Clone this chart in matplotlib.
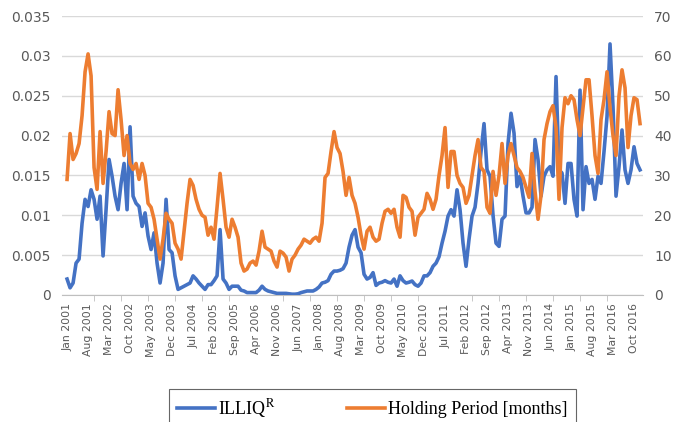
import numpy as np
import matplotlib.pyplot as plt
import pandas as pd

# monthly series, Jan 2001 .. Dec 2016 (one row per year)
illiq_x1000 = [
    2.0, 0.9, 1.5, 4.0, 4.5, 9.0, 12.0, 11.1, 13.2, 12.0, 9.5, 12.4,
    4.9, 10.7, 17.0, 14.9, 12.4, 10.7, 14.0, 16.5, 10.7, 21.1, 12.4, 11.5,
    11.1, 8.6, 10.3, 7.4, 5.7, 7.8, 4.0, 1.5, 4.0, 12.0, 5.7, 5.3,
    2.4, 0.7, 0.9, 1.1, 1.3, 1.5, 2.4, 2.0, 1.5, 1.1, 0.7, 1.3,
    1.3, 1.8, 2.4, 8.2, 2.0, 1.5, 0.7, 1.1, 1.1, 1.1, 0.6, 0.5,
    0.3, 0.3, 0.3, 0.3, 0.6, 1.1, 0.7, 0.5, 0.4, 0.3, 0.2, 0.2,
    0.2, 0.2, 0.15, 0.1, 0.1, 0.15, 0.3, 0.4, 0.5, 0.5, 0.5, 0.7,
    1.0, 1.5, 1.6, 1.8, 2.6, 3.0, 3.0, 3.1, 3.3, 4.0, 6.0, 7.5,
    8.2, 6.0, 5.3, 2.6, 2.0, 2.2, 2.8, 1.2, 1.5, 1.6, 1.8, 1.6,
    1.5, 2.0, 1.1, 2.4, 1.8, 1.5, 1.6, 1.75, 1.3, 1.1, 1.5, 2.4,
    2.4, 2.8, 3.6, 4.0, 4.8, 6.5, 8.0, 9.9, 10.7, 9.9, 13.2, 10.7,
    6.5, 3.6, 7.0, 9.9, 11.0, 14.0, 18.0, 21.5, 15.7, 14.9, 10.0, 6.5,
    6.1, 9.5, 9.9, 19.0, 22.8, 20.3, 13.6, 14.9, 12.4, 10.3, 10.3, 11.0,
    19.5, 17.0, 12.4, 14.9, 15.7, 16.1, 14.9, 27.4, 15.7, 15.3, 11.5, 16.5,
    16.5, 12.0, 9.9, 25.7, 10.7, 16.1, 14.0, 14.5, 12.0, 14.9, 14.0, 18.0,
    22.4, 31.5, 23.6, 12.4, 16.1, 20.7, 15.7, 14.0, 15.7, 18.6, 16.5, 15.7,
]
holding = [
    29, 40.5, 34, 35.5, 38, 45, 56, 60.5, 55, 32, 26.5, 41,
    28, 36, 46, 40.5, 40, 51.5, 44, 35, 40, 33, 31.5, 33,
    29, 33, 30, 23, 22, 19, 14, 9, 14, 20.5, 19, 18,
    13, 11.5, 9, 16, 23, 29, 27.5, 24, 21.5, 20, 19.5, 15,
    17, 14, 22, 30.5, 24, 17, 14.5, 19, 17, 14.5, 8, 6,
    6.5, 8, 8.5, 7.5, 11, 16, 12, 11.5, 11, 8.5, 7, 11,
    10.5, 9.5, 6, 9, 10, 11.5, 12.5, 14, 13.5, 13, 14, 14.5,
    13.5, 18, 29.5, 30.5, 36, 41, 37, 35.5, 31, 25, 29.5, 25,
    23, 19.5, 15, 11.5, 16, 17, 14.5, 13.5, 14, 18, 21, 21.5,
    20.5, 21.5, 17, 14.5, 25, 24.5, 22, 21, 15, 19.5, 20.5, 21.5,
    25.5, 24, 21.5, 24, 30, 35, 42, 27, 36, 36, 30, 28,
    27, 23, 25, 30, 35, 39, 32, 31, 22, 20.5, 31, 25,
    30, 38, 28, 35, 38, 35, 32, 31, 29.5, 27, 24.5, 35.5,
    26, 19, 25, 39, 43, 46, 47.5, 42, 24, 42, 49.5, 48,
    50, 49, 44, 40, 47, 54, 54, 45, 35, 30.5, 44, 49,
    56, 47, 40, 35, 50, 56.5, 52, 37, 45, 49.5, 49, 43,
]

months = pd.date_range('2001-01-01', periods=len(holding), freq='MS')
illiq = np.array(illiq_x1000) / 1000.0
idx = np.arange(len(months))
tick_idx = idx[::7]
tick_labels = [m.strftime('%b %Y') for m in months[::7]]

plt.rcParams['mathtext.fontset'] = 'stix'

fig = plt.figure(figsize=(6.78, 4.22), dpi=100)
ax = fig.add_axes([0.0914, 0.301, 0.8570, 0.661])
ax2 = ax.twinx()

blue = '#4472C4'
orange = '#ED7D31'
grey = '#595959'

l1, = ax.plot(idx, illiq, color=blue, lw=2.6, solid_joinstyle='round', zorder=3)
l2, = ax2.plot(idx, holding, color=orange, lw=2.6, solid_joinstyle='round', zorder=3)

ax.set_xlim(-1.7, 192)
ax.set_ylim(0, 0.035)
ax2.set_ylim(0, 70)
ax.set_yticks(np.arange(0, 0.0351, 0.005))
ax.set_yticklabels(['0', '0.005', '0.01', '0.015', '0.02', '0.025', '0.03', '0.035'])
ax2.set_yticks(np.arange(0, 71, 10))

ax.grid(axis='y', color='#D9D9D9', lw=1.0)
ax.set_axisbelow(True)
ax.set_xticks(tick_idx)
ax.set_xticklabels(tick_labels, rotation=90, fontsize=7.8, color=grey)
ax.set_xticks(idx[::9], minor=True)
ax.tick_params(axis='x', which='major', length=0, pad=6)
ax.tick_params(axis='x', which='minor', length=4, color='#BFBFBF')
ax.tick_params(axis='y', length=0, labelsize=10, colors=grey, pad=8)
ax2.tick_params(axis='y', length=0, labelsize=10, colors=grey, pad=8)

for a in (ax, ax2):
    for s in ('top', 'left', 'right'):
        a.spines[s].set_visible(False)
    a.spines['bottom'].set_color('#BFBFBF')
ax2.spines['bottom'].set_visible(False)

leg = fig.legend([l1, l2], [r'ILLIQ$^{\mathrm{R}}$', 'Holding Period [months]'],
                 loc='upper center', bbox_to_anchor=(0.549, 0.079), ncol=2,
                 borderaxespad=0, frameon=True, fancybox=False, edgecolor='#404040',
                 handlelength=2.1, columnspacing=4.0, handletextpad=0.15,
                 borderpad=0.45, prop={'family': 'Liberation Serif', 'size': 13})
leg.get_frame().set_linewidth(0.8)

fig.savefig('out.png', dpi=100)
